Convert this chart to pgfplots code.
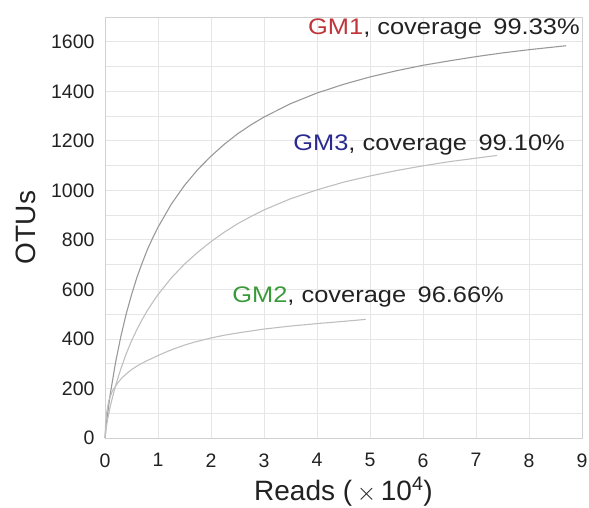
\documentclass[border=0pt]{standalone}
\usepackage{pgfplots}
\pgfplotsset{compat=1.18}
\usepackage{fontspec}
\setmainfont{Liberation Sans}
\usetikzlibrary{calc}
\definecolor{gmred}{HTML}{C0353A}
\definecolor{gmgreen}{HTML}{3A9A3A}
\definecolor{gmblue}{HTML}{2A2A90}
\definecolor{txt}{HTML}{222222}
\definecolor{gridc}{HTML}{E6E6E6}
\begin{document}
\begin{tikzpicture}
\begin{axis}[
  scale only axis,
  width=477pt, height=421pt,
  xmin=0, xmax=9, ymin=0, ymax=1700,
  xtick={0,1,...,9},
  ytick={0,200,...,1600},
  minor ytick={100,300,...,1700},
  grid=both,
  major grid style={gridc, line width=0.8pt},
  minor grid style={gridc, line width=0.8pt},
  axis line style={draw=gridc!80!gray, line width=0.8pt},
  major tick length=0pt, minor tick length=0pt,
  /pgf/number format/assume math mode=true,
  /pgf/number format/1000 sep={},
  tick label style={font=\fontsize{19.5}{20}\selectfont, text=txt},
  yticklabel style={xshift=-7pt},
  xticklabel style={yshift=-12pt},
  xlabel={Reads (\,$\times$\,10\textsuperscript{4})},
  ylabel={OTUs},
  label style={font=\fontsize{28}{30}\selectfont, text=txt},
  xlabel style={at={(rel axis cs:0.5,0)}, anchor=base, yshift=-62pt},
  ylabel style={at={($(rel axis cs:0,0.5)+(-79pt,0pt)$)}, anchor=center},
  clip=false,
]
\coordinate (ll) at (rel axis cs:0,0);
\coordinate (ur) at (rel axis cs:1,1);
% GM1
\addplot[color=black!40, line width=1.1pt, line join=round] coordinates {
(0,0) (0.02,50) (0.05,100) (0.1,178) (0.2,306) (0.3,411) (0.4,501) (0.5,578) (0.6,647) (0.7,706) (0.8,761) (0.9,808) (1.0,851) (1.25,944) (1.5,1020) (1.75,1084) (2.0,1138) (2.25,1186) (2.5,1228) (2.75,1264) (3.0,1296) (3.5,1350) (4.0,1393) (4.5,1428) (5.0,1458) (5.5,1483) (6.0,1505) (6.5,1523) (7.0,1540) (7.5,1555) (8.0,1568) (8.35,1576) (8.7,1584)
};
% GM3
\addplot[color=black!25, line width=1.1pt, line join=round] coordinates {
(0,0) (0.03,50) (0.05,76) (0.1,129) (0.2,212) (0.3,280) (0.4,340) (0.5,392) (0.6,437) (0.7,478) (0.8,515) (0.9,548) (1.0,579) (1.25,646) (1.5,702) (1.75,750) (2.0,793) (2.25,831) (2.5,865) (2.75,894) (3.0,921) (3.5,966) (4.0,1002) (4.5,1033) (5.0,1058) (5.5,1080) (6.0,1099) (6.5,1116) (7.0,1130) (7.4,1141)
};
% GM2
\addplot[color=black!25, line width=1.1pt, line join=round] coordinates {
(0,0) (0.01,50) (0.03,100) (0.07,150) (0.14,190) (0.25,225) (0.33,245) (0.42,262) (0.5,276) (0.6,290) (0.7,302) (0.8,313) (0.9,323) (1.0,333) (1.15,347) (1.3,360) (1.5,375) (1.7,388) (2.0,404) (2.25,415) (2.5,424) (2.75,432) (3.0,440) (3.5,452) (4.0,462) (4.5,471) (4.92,479)
};
\node[anchor=base west, inner sep=0pt, text=txt, font=\fontsize{22.5}{24}\selectfont] at (axis cs:3.83,1628) {\scalebox{1.13}[1]{\textcolor{gmred}{GM1}, coverage\hspace{0.45em}99.33\%}};
\node[anchor=base west, inner sep=0pt, text=txt, font=\fontsize{22.5}{24}\selectfont] at (axis cs:3.55,1161) {\scalebox{1.13}[1]{\textcolor{gmblue}{GM3}, coverage\hspace{0.45em}99.10\%}};
\node[anchor=base west, inner sep=0pt, text=txt, font=\fontsize{22.5}{24}\selectfont] at (axis cs:2.40,548) {\scalebox{1.13}[1]{\textcolor{gmgreen}{GM2}, coverage\hspace{0.45em}96.66\%}};
\end{axis}
\pgfresetboundingbox
\path ($(ll)+(-105pt,-69pt)$) rectangle ($(ur)+(7pt,17pt)$);
\end{tikzpicture}
\end{document}
